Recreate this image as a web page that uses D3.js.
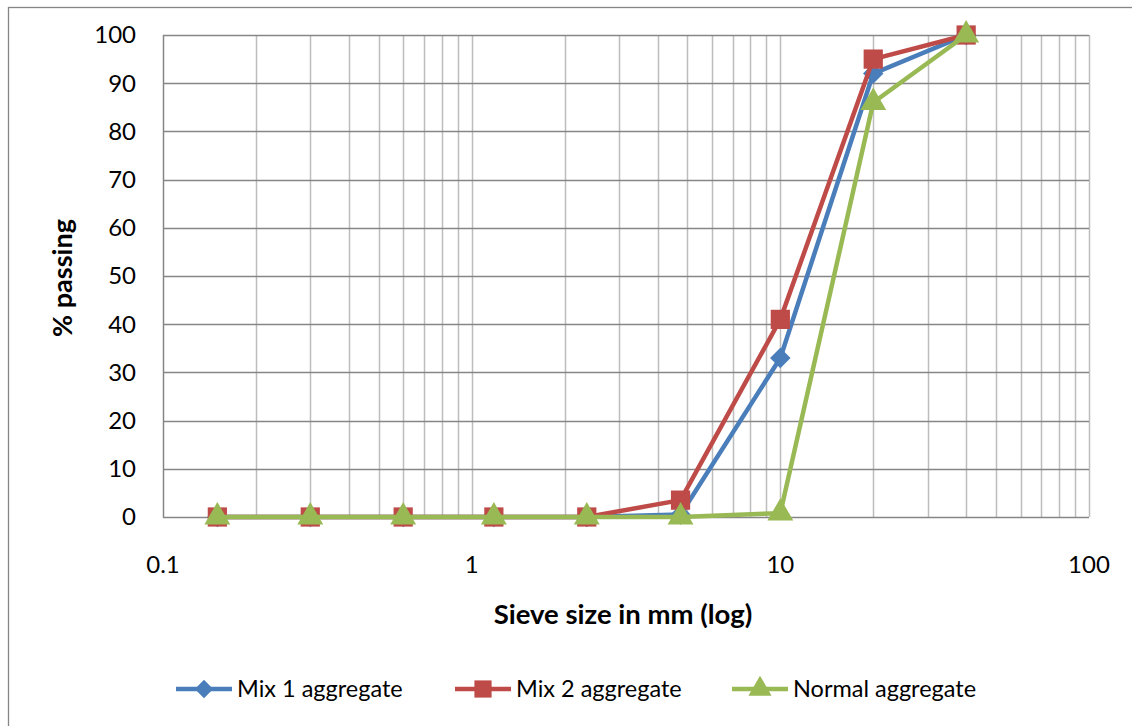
<!DOCTYPE html>
<html><head><meta charset="utf-8">
<script src="https://cdn.jsdelivr.net/npm/d3@7"></script>
<style>body{margin:0;background:#fff;} svg{display:block;font-family:Lato, "Liberation Sans", sans-serif;}</style>
</head><body>
<svg id="chart" width="1132" height="726"></svg>
<script>
const sieveSizes = [0.15, 0.3, 0.6, 1.18, 2.36, 4.75, 10, 20, 40];
const mix1 = [0, 0, 0, 0, 0, 0.5, 33, 92, 100];
const mix2 = [0, 0, 0, 0, 0, 3.5, 41, 95, 100];
const normal = [0, 0, 0, 0, 0, 0, 0.8, 86, 100];
const seriesNames = ["Mix 1 aggregate", "Mix 2 aggregate", "Normal aggregate"];
const xTicks = [0.1, 1, 10, 100];
const xTickLabels = ["0.1", "1", "10", "100"];
const yTicks = [0, 10, 20, 30, 40, 50, 60, 70, 80, 90, 100];

const colors = ["#4a7ebb", "#be4b48", "#98b954"];
const shapes = [d3.symbolSquare, d3.symbolSquare, d3.symbolTriangle];
const rotations = [45, 0, 0];
const series = [mix1, mix2, normal].map((v, i) => ({name: seriesNames[i], values: v, color: colors[i], shape: shapes[i], rot: rotations[i]}));

const svg = d3.select("#chart");
const L = 163, R = 1089, T = 35, B = 517;
const x = d3.scaleLog().domain([0.1, 100]).range([L, R]);
const y = d3.scaleLinear().domain([0, 100]).range([B, T]);

// outer border
svg.append("rect").attr("x", 8.5).attr("y", 7.5).attr("width", 1140).attr("height", 740)
  .attr("fill", "none").attr("stroke", "#868686").attr("stroke-width", 1.3);

// vertical minor gridlines
const vlines = [];
for (let d = 0.1; d < 100; d *= 10) for (let k = 1; k <= 10; k++) vlines.push(+(d * k).toPrecision(3));
const uniq = Array.from(new Set(vlines)).filter(v => v > 0.1);
svg.append("g").selectAll("line").data(uniq).join("line")
  .attr("x1", d => Math.round(x(d)) + 0.5).attr("x2", d => Math.round(x(d)) + 0.5)
  .attr("y1", T).attr("y2", B)
  .attr("stroke", "#bdbdbd").attr("stroke-width", 1.5);

// horizontal gridlines
svg.append("g").selectAll("line").data(yTicks.filter(t => t > 0)).join("line")
  .attr("x1", L).attr("x2", R)
  .attr("y1", d => Math.round(y(d)) + 0.5).attr("y2", d => Math.round(y(d)) + 0.5)
  .attr("stroke", "#868686").attr("stroke-width", 1.5);

// axes lines
svg.append("line").attr("x1", L + 0.5).attr("x2", L + 0.5).attr("y1", T).attr("y2", B + 0.5)
  .attr("stroke", "#868686").attr("stroke-width", 1.5);
svg.append("line").attr("x1", L).attr("x2", R).attr("y1", B + 0.5).attr("y2", B + 0.5)
  .attr("stroke", "#868686").attr("stroke-width", 1.5);

// y tick labels
svg.append("g").selectAll("text").data(yTicks).join("text")
  .attr("x", 136).attr("y", d => y(d)).attr("dy", "0.35em")
  .attr("text-anchor", "end").attr("font-size", 24).attr("fill", "#000")
  .text(d => d);

// x tick labels
svg.append("g").selectAll("text").data(xTicks).join("text")
  .attr("x", d => x(d)).attr("y", 565).attr("dy", "0.35em")
  .attr("text-anchor", "middle").attr("font-size", 24).attr("fill", "#000")
  .text((d, i) => xTickLabels[i]);

// axis titles
svg.append("text").attr("x", 623).attr("y", 624).attr("text-anchor", "middle")
  .attr("font-size", 27.5).attr("font-weight", "bold").text("Sieve size in mm (log)");
svg.append("text").attr("transform", "translate(72,278) rotate(-90)").attr("text-anchor", "middle")
  .attr("font-size", 27).attr("font-weight", "bold").text("% passing");

// series
const line = d3.line().x((d, i) => x(sieveSizes[i])).y(d => y(d));
const symSize = [210, 370, 290];
series.forEach((s, si) => {
  const g = svg.append("g");
  g.append("path").attr("d", line(s.values)).attr("fill", "none")
    .attr("stroke", s.color).attr("stroke-width", 4.5).attr("stroke-linejoin", "round");
  g.selectAll("path.m").data(s.values).join("path").attr("class", "m")
    .attr("transform", (d, i) => `translate(${x(sieveSizes[i])},${y(d)}) rotate(${s.rot})`)
    .attr("d", d3.symbol().type(s.shape).size(symSize[si]))
    .attr("fill", s.color);
});

// legend
const legX = [176, 455, 732];
series.forEach((s, i) => {
  const g = svg.append("g").attr("transform", `translate(${legX[i]},689)`);
  g.append("line").attr("x1", 0).attr("x2", 56).attr("y1", 0).attr("y2", 0)
    .attr("stroke", s.color).attr("stroke-width", 4.5);
  g.append("path").attr("transform", `translate(28,0) rotate(${s.rot})`)
    .attr("d", d3.symbol().type(s.shape).size(symSize[i] * 0.8)).attr("fill", s.color);
  g.append("text").attr("x", 61).attr("y", 0).attr("dy", "0.35em")
    .attr("font-size", 23.5).text(s.name);
});
</script>
</body></html>
